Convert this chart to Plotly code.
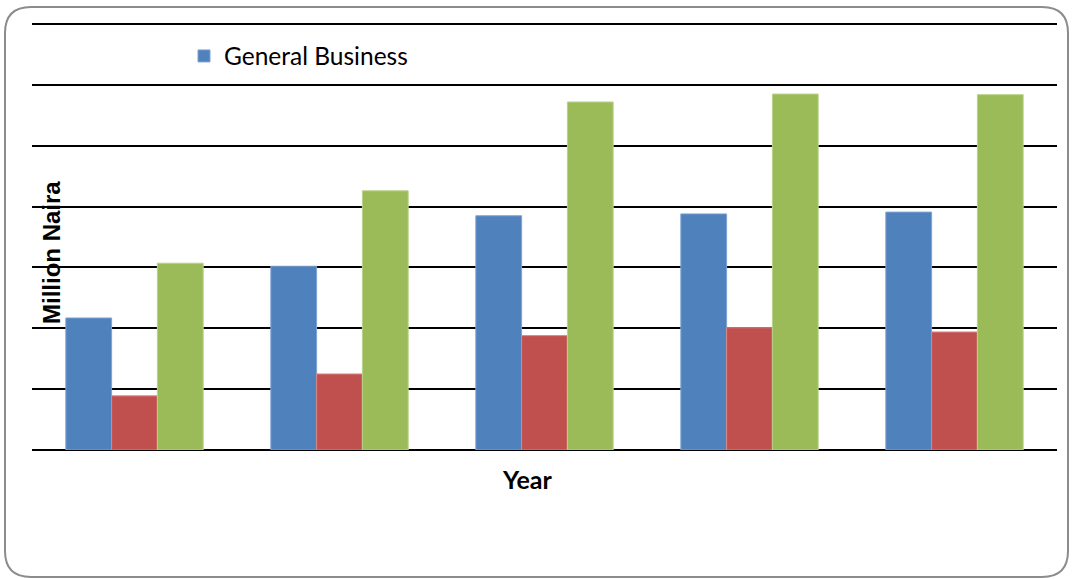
import plotly.graph_objects as go

categories = ["1", "2", "3", "4", "5"]
series_names = ["General Business", "Life Business", "Total"]
general_business = [2.17, 3.02, 3.85, 3.88, 3.91]
life_business = [0.89, 1.25, 1.88, 2.01, 1.94]
total = [3.07, 4.26, 5.72, 5.85, 5.84]
colors = ["#4F81BD", "#C0504D", "#9BBB59"]
edge_colors = ["#7FA3D3", "#D98A88", "#B9D38A"]

W, H = 1072, 579
YMAX = 7.1
L, R, B = 32, 15, 129
T = round(H - B - 426 * YMAX / 7)
pw, ph = W - L - R, H - T - B

def px(x):
    return (x - L) / pw

def py(y):
    return (H - B - y) / ph

fig = go.Figure()
for i, (name, vals) in enumerate(zip(series_names, [general_business, life_business, total])):
    fig.add_trace(go.Bar(
        x=categories, y=vals, name=name,
        marker=dict(color=colors[i], line=dict(color=edge_colors[i], width=1)),
        showlegend=(i == 0),
    ))

# rounded border
x0, x1, y0, y1, r = 5, 1068, 7, 577, 26
path = (
    f"M {px(x0 + r)} {py(y0)} L {px(x1 - r)} {py(y0)} "
    f"Q {px(x1)} {py(y0)} {px(x1)} {py(y0 + r)} "
    f"L {px(x1)} {py(y1 - r)} Q {px(x1)} {py(y1)} {px(x1 - r)} {py(y1)} "
    f"L {px(x0 + r)} {py(y1)} Q {px(x0)} {py(y1)} {px(x0)} {py(y1 - r)} "
    f"L {px(x0)} {py(y0 + r)} Q {px(x0)} {py(y0)} {px(x0 + r)} {py(y0)} Z"
)
fig.add_shape(type="path", path=path, xref="paper", yref="paper",
              line=dict(color="#8C8C8C", width=2), layer="below")

fig.add_annotation(text="<b>Million Naira</b>", x=px(52), y=py(253), xref="paper", yref="paper",
                   xanchor="center", yanchor="middle",
                   textangle=-90, showarrow=False,
                   font=dict(family="Liberation Sans, Arial", size=24, color="#000000"))
fig.add_annotation(text="<b>Year</b>", x=px(527), y=py(479), xref="paper", yref="paper",
                   xanchor="center", yanchor="middle",
                   showarrow=False,
                   font=dict(family="Lato, Open Sans", size=25, color="#000000"))

fig.update_layout(
    width=W, height=H,
    margin=dict(l=L, r=R, t=T, b=B),
    paper_bgcolor="white", plot_bgcolor="white",
    barmode="group", bargap=0.33, bargroupgap=0,
    showlegend=True,
    legend=dict(x=px(184), y=py(56), xanchor="left", yanchor="middle",
                font=dict(family="Lato, Open Sans", size=24.5, color="#000000"),
                bgcolor="rgba(0,0,0,0)", itemwidth=30),
    xaxis=dict(showticklabels=False, showgrid=False, zeroline=False, showline=False, ticks=""),
    yaxis=dict(range=[0, YMAX], tickvals=[0, 1, 2, 3, 4, 5, 6, 7], showticklabels=False, showgrid=True,
               gridcolor="#000000", gridwidth=2, zeroline=True, zerolinecolor="#000000",
               zerolinewidth=2, showline=False, ticks=""),
)

fig.write_html("out.html", config={"displayModeBar": False},
               post_script="document.body.style.margin='0';document.body.style.overflow='hidden';")
